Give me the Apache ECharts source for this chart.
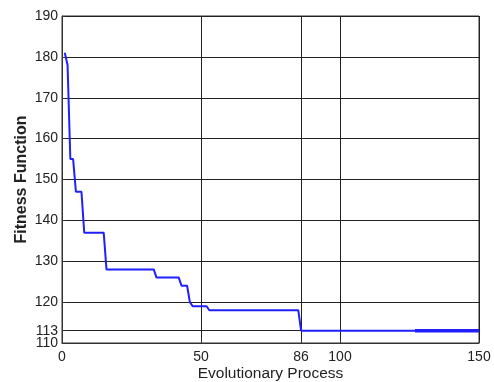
<!DOCTYPE html>
<html>
<head>
<meta charset="utf-8">
<script src="https://cdn.jsdelivr.net/npm/echarts@6/dist/echarts.min.js"></script>
<style>
  html, body { margin: 0; padding: 0; background: #fff; }
  #chart { width: 494px; height: 382px; }
</style>
</head>
<body>
<div id="chart"></div>
<script>
// generation number -> best fitness
var generations = [1, 2, 3, 4, 5, 7, 8, 15, 16, 33, 34, 42, 43, 45, 46, 47, 52, 53, 85, 86, 150];
var fitness = [181, 178, 155, 155, 147, 147, 137, 137, 128, 128, 126, 126, 124, 124, 120, 119, 119, 118, 118, 113, 113];
// thicker tail segment at the end of the run
var tailGen = [127, 150];
var tailFit = [113, 113];

var xTicks = [0, 50, 86, 100, 150];
var yTicks = [110, 113, 120, 130, 140, 150, 160, 170, 180, 190];
// 113 sits too close to 110, so its label goes on a second overlaid axis
var yLabelsMain = [110, 120, 130, 140, 150, 160, 170, 180, 190];
var yLabelsExtra = [113];

function pairs(xs, ys) {
  return xs.map(function (x, i) { return [x, ys[i]]; });
}

var chart = echarts.init(document.getElementById('chart'));
var txt = { fontFamily: 'Liberation Sans', fontSize: 14, color: '#222' };

chart.setOption({
  animation: false,
  backgroundColor: '#fff',
  grid: {
    left: 62, right: 15, top: 16, bottom: 39,
    outerBoundsMode: 'none',
    show: true, borderColor: '#333', borderWidth: 1
  },
  xAxis: {
    type: 'value',
    min: 0, max: 150,
    name: 'Evolutionary Process',
    nameLocation: 'middle',
    nameGap: 23,
    nameMoveOverlap: false,
    nameTextStyle: { fontFamily: 'Liberation Sans', fontSize: 15.5, color: '#222' },
    axisLine: { show: true, lineStyle: { color: '#333' } },
    axisTick: { show: true, inside: true, length: 3, customValues: xTicks, lineStyle: { color: '#333' } },
    axisLabel: Object.assign({ customValues: xTicks, margin: 7, hideOverlap: false }, txt),
    splitLine: { show: true, lineStyle: { color: '#222', width: 1 } }
  },
  yAxis: [{
    type: 'value',
    min: 110, max: 190,
    name: 'Fitness Function',
    nameLocation: 'middle',
    nameGap: 32,
    nameMoveOverlap: false,
    nameTextStyle: { fontFamily: 'Liberation Sans', fontSize: 16, fontWeight: 'bold', color: '#222' },
    axisLine: { show: true, lineStyle: { color: '#333' } },
    axisTick: { show: true, inside: true, length: 3, customValues: yTicks, lineStyle: { color: '#333' } },
    axisLabel: Object.assign({ customValues: yLabelsMain, margin: 4, hideOverlap: false, showMinLabel: true }, txt),
    splitLine: { show: true, lineStyle: { color: '#222', width: 1 } }
  }, {
    type: 'value',
    min: 110, max: 190,
    position: 'left',
    offset: 0,
    axisLine: { show: false },
    axisTick: { show: false },
    axisLabel: Object.assign({ customValues: yLabelsExtra, margin: 4 }, txt),
    splitLine: { show: false }
  }],
  series: [{
    type: 'line',
    data: pairs(generations, fitness),
    showSymbol: false,
    lineStyle: { color: '#1f1fff', width: 2 },
    z: 3
  }, {
    type: 'line',
    data: pairs(tailGen, tailFit),
    showSymbol: false,
    lineStyle: { color: '#1f1fff', width: 3.5 },
    z: 4
  }]
});
</script>
</body>
</html>
